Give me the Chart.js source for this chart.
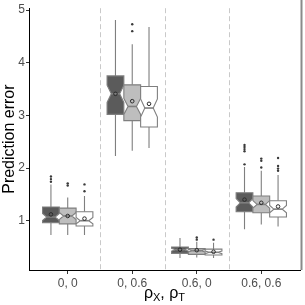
<!DOCTYPE html>
<html>
<head>
<meta charset="utf-8">
<script src="https://cdn.jsdelivr.net/npm/chart.js@4.4.1/dist/chart.umd.min.js"></script>
<style>
html,body{margin:0;padding:0;background:#fff;}
#wrap{width:305px;height:305px;}
</style>
</head>
<body>
<div id="wrap"><canvas id="c" width="305" height="305"></canvas></div>
<script>
// ---- data ----
const categories = ['0, 0', '0, 0.6', '0.6, 0', '0.6, 0.6'];
const seriesNames = ['Method 1', 'Method 2', 'Method 3'];
const yTicks = [1, 2, 3, 4, 5];
const whiskerLow  = [[0.73, 2.23, 0.29, 0.84], [0.73, 2.33, 0.30, 0.93], [0.73, 2.38, 0.29, 0.89]];
const q1          = [[0.96, 3.02, 0.38, 1.17], [0.94, 2.90, 0.36, 1.15], [0.90, 2.78, 0.35, 1.07]];
const medians     = [[1.07, 3.41, 0.45, 1.34], [1.09, 3.17, 0.43, 1.31], [1.00, 3.14, 0.40, 1.22]];
const q3          = [[1.26, 3.75, 0.50, 1.53], [1.24, 3.58, 0.47, 1.47], [1.17, 3.55, 0.46, 1.38]];
const whiskerHigh = [[1.69, 4.81, 0.67, 2.02], [1.44, 4.35, 0.60, 1.95], [1.47, 4.68, 0.58, 1.87]];
const means       = [[1.12, 3.41, 0.45, 1.40], [1.09, 3.27, 0.44, 1.34], [1.04, 3.22, 0.41, 1.27]];
const outliers = [
  [[1.74, 1.79, 1.84], [], [], [2.07, 2.32, 2.36, 2.40, 2.44]],
  [[1.67, 1.71], [4.60, 4.73], [0.64, 0.68], [2.01, 2.14, 2.18]],
  [[1.56, 1.69], [], [0.64], [1.95, 1.99, 2.04, 2.19]]
];
const sampleSize = 50;

// ---- styles ----
const fills = ['#5b5b5b', '#bebebe', '#ffffff'];
const edge = '#7f7f7f';
const offsets = [-0.26, 0, 0.26];
const boxW = 0.26;

const datasets = [];
seriesNames.forEach((name, s) => {
  const pts = [];
  outliers[s].forEach((arr, g) => arr.forEach(v => pts.push({x: g + 1 + offsets[s], y: v})));
  datasets.push({label: name + ' outliers', data: pts, pointRadius: 1.2, pointBackgroundColor: '#3a3a3a', pointBorderWidth: 0, showLine: false});
});
seriesNames.forEach((name, s) => {
  datasets.push({label: name + ' mean', data: means[s].map((v, g) => ({x: g + 1 + offsets[s], y: v})),
    pointRadius: 1.8, pointBackgroundColor: 'rgba(0,0,0,0)', pointBorderColor: '#2b2b2b', pointBorderWidth: 1, showLine: false});
});

const boxPlugin = {
  id: 'boxes',
  beforeDatasetsDraw(chart) {
    const {ctx, chartArea: a, scales: {x, y}} = chart;
    ctx.save();
    // dashed separators
    ctx.strokeStyle = '#c9c9c9'; ctx.lineWidth = 1; ctx.setLineDash([5, 3]);
    [1.5, 2.5, 3.5].forEach(v => {
      const px = Math.round(x.getPixelForValue(v)) + 0.5;
      ctx.beginPath(); ctx.moveTo(px, a.top); ctx.lineTo(px, a.bottom); ctx.stroke();
    });
    ctx.setLineDash([]);
    for (let s = 0; s < 3; s++) {
      for (let g = 0; g < 4; g++) {
        const c = g + 1 + offsets[s];
        const xl = x.getPixelForValue(c - boxW / 2), xr = x.getPixelForValue(c + boxW / 2);
        const xc = x.getPixelForValue(c);
        const w = xr - xl;
        const iqr = q3[s][g] - q1[s][g];
        const nh = 1.58 * iqr / Math.sqrt(sampleSize);
        const yLo = y.getPixelForValue(q1[s][g]), yHi = y.getPixelForValue(q3[s][g]);
        const yMed = y.getPixelForValue(medians[s][g]);
        const yNu = y.getPixelForValue(medians[s][g] + nh), yNl = y.getPixelForValue(medians[s][g] - nh);
        // whiskers
        ctx.strokeStyle = edge; ctx.lineWidth = 1.1;
        ctx.beginPath();
        ctx.moveTo(xc, y.getPixelForValue(whiskerHigh[s][g])); ctx.lineTo(xc, yHi);
        ctx.moveTo(xc, yLo); ctx.lineTo(xc, y.getPixelForValue(whiskerLow[s][g]));
        ctx.stroke();
        // notched box
        ctx.beginPath();
        ctx.moveTo(xl, yHi); ctx.lineTo(xl, yNu); ctx.lineTo(xl + w * 0.25, yMed); ctx.lineTo(xl, yNl);
        ctx.lineTo(xl, yLo); ctx.lineTo(xr, yLo); ctx.lineTo(xr, yNl); ctx.lineTo(xr - w * 0.25, yMed);
        ctx.lineTo(xr, yNu); ctx.lineTo(xr, yHi); ctx.closePath();
        ctx.fillStyle = fills[s]; ctx.fill();
        ctx.strokeStyle = edge; ctx.lineWidth = 1.1; ctx.stroke();
        // median
        ctx.lineWidth = 1.6;
        ctx.beginPath(); ctx.moveTo(xl + w * 0.25, yMed); ctx.lineTo(xr - w * 0.25, yMed); ctx.stroke();
      }
    }
    ctx.restore();
  },
  afterDraw(chart) {
    const {ctx, chartArea: a} = chart;
    ctx.save();
    // right edge line
    ctx.strokeStyle = '#8a8a8a'; ctx.lineWidth = 2;
    ctx.beginPath(); ctx.moveTo(a.right + 1.5, 0); ctx.lineTo(a.right + 1.5, a.bottom); ctx.stroke();
    // x title with subscripts
    const parts = [['ρ', 16, 0], ['X', 11, 3], [', ', 16, 0], ['ρ', 16, 0], ['T', 11, 3]];
    let total = 0;
    parts.forEach(p => { ctx.font = p[1] + 'px "Liberation Sans", Arial, sans-serif'; total += ctx.measureText(p[0]).width; });
    let px = (a.left + a.right) / 2 - total / 2;
    const base = 298;
    ctx.fillStyle = '#000'; ctx.textBaseline = 'alphabetic'; ctx.textAlign = 'left';
    parts.forEach(p => {
      ctx.font = p[1] + 'px "Liberation Sans", Arial, sans-serif';
      ctx.fillText(p[0], px, base + p[2]);
      px += ctx.measureText(p[0]).width;
    });
    ctx.restore();
  }
};

new Chart(document.getElementById('c'), {
  type: 'scatter',
  data: {datasets},
  options: {
    responsive: false, animation: false, devicePixelRatio: 1,
    layout: {padding: {top: 4, right: 4, left: 0, bottom: 0}},
    plugins: {legend: {display: false}, tooltip: {enabled: false}},
    scales: {
      x: {
        type: 'linear', min: 0.4, max: 4.6,
        afterBuildTicks: sc => { sc.ticks = categories.map((c, i) => ({value: i + 1})); },
        afterFit: sc => { sc.height = 35; },
        ticks: {callback: v => categories[v - 1], color: '#4d4d4d', font: {size: 12, family: '"Liberation Sans", Arial, sans-serif'}, padding: 2, maxRotation: 0, autoSkip: false},
        grid: {drawOnChartArea: false, drawTicks: true, tickLength: 4, color: '#333'},
        border: {display: true, color: '#000', width: 1}
      },
      y: {
        type: 'linear', min: 0.064, max: 5.036,
        afterBuildTicks: sc => { sc.ticks = yTicks.map(v => ({value: v})); },
        afterFit: sc => { sc.width = 29; },
        ticks: {color: '#4d4d4d', font: {size: 12, family: '"Liberation Sans", Arial, sans-serif'}, padding: 1},
        grid: {drawOnChartArea: false, drawTicks: true, tickLength: 3, color: '#333'},
        border: {display: true, color: '#000', width: 1},
        title: {display: true, text: 'Prediction error', color: '#000', font: {size: 16, family: '"Liberation Sans", Arial, sans-serif'}, padding: {top: 0, bottom: 0}}
      }
    }
  },
  plugins: [boxPlugin]
});
</script>
</body>
</html>
